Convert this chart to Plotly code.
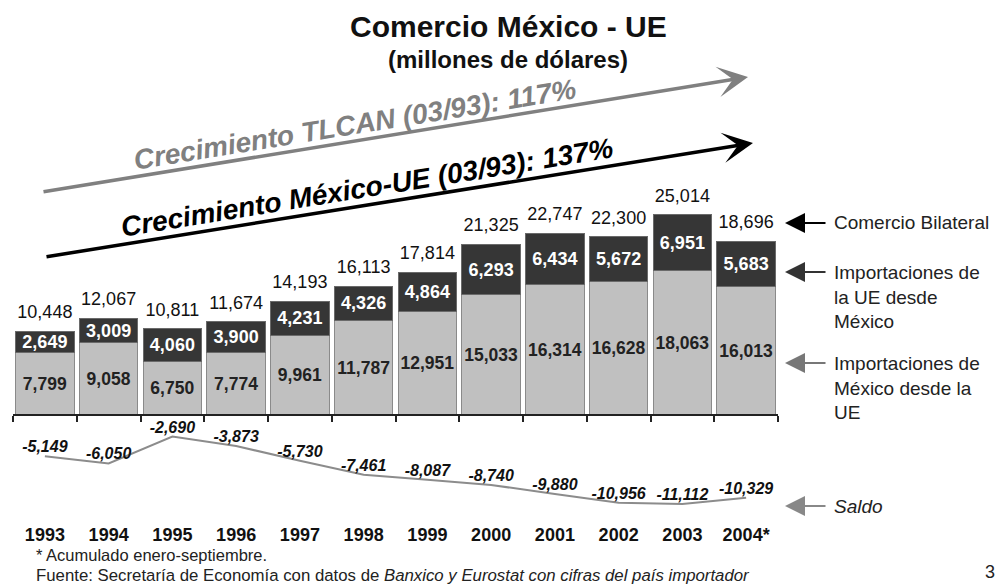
import plotly.graph_objects as go

# ---------------- data ----------------
years = ["1993", "1994", "1995", "1996", "1997", "1998", "1999", "2000",
         "2001", "2002", "2003", "2004*"]
imp_mexico_desde_ue = [7799, 9058, 6750, 7774, 9961, 11787, 12951, 15033,
                       16314, 16628, 18063, 16013]
imp_ue_desde_mexico = [2649, 3009, 4060, 3900, 4231, 4326, 4864, 6293,
                       6434, 5672, 6951, 5683]
comercio_bilateral = [10448, 12067, 10811, 11674, 14193, 16113, 17814, 21325,
                      22747, 22300, 25014, 18696]
saldo = [-5149, -6050, -2690, -3873, -5730, -7461, -8087, -8740,
         -9880, -10956, -11112, -10329]

# ---------------- layout geometry ----------------
W, H = 997, 586
ML, MR, MT, MB = 13, 219, 0, 64
PW = W - ML - MR
PH = H - MT - MB
ZERO_PX = 415           # pixel row of the zero line
PX_PER_UNIT = 8 / 1000  # pixels per million dollars
YMAX = (ZERO_PX - MT) / PX_PER_UNIT
YMIN = -(MT + PH - ZERO_PX) / PX_PER_UNIT


def px(x):
    return (x - ML) / PW


def py(y):
    return (MT + PH - y) / PH


FONT = "Liberation Sans, Arial, Helvetica, sans-serif"
LIGHT = "#c0c0c0"
DARK = "#363636"

fmt = lambda v: f"{v:,}"
stack_top = [a + b for a, b in zip(imp_mexico_desde_ue, imp_ue_desde_mexico)]

fig = go.Figure()

fig.add_trace(go.Bar(
    x=years, y=imp_mexico_desde_ue, name="Importaciones de México desde la UE",
    marker=dict(color=LIGHT, line=dict(color="#8a8a8a", width=1)),
    text=[fmt(v) for v in imp_mexico_desde_ue], textposition="inside",
    insidetextanchor="middle", constraintext="none", textangle=0,
    textfont=dict(family=FONT, size=17.5, color="#222222", weight="bold"),
    hoverinfo="skip",
))
fig.add_trace(go.Bar(
    x=years, y=imp_ue_desde_mexico, name="Importaciones de la UE desde México",
    marker=dict(color=DARK, line=dict(color="#6a6a6a", width=1)),
    text=[fmt(v) for v in imp_ue_desde_mexico], textposition="inside",
    insidetextanchor="middle", constraintext="none", textangle=0,
    textfont=dict(family=FONT, size=18, color="white", weight="bold"),
    hoverinfo="skip",
))
fig.add_trace(go.Scatter(
    x=years, y=stack_top, mode="markers+text", name="Comercio Bilateral",
    marker=dict(size=12, color="rgba(0,0,0,0)"),
    text=[fmt(v) for v in comercio_bilateral], textposition="top center",
    textfont=dict(family=FONT, size=18, color="#111111"),
    cliponaxis=False, hoverinfo="skip",
))
fig.add_trace(go.Scatter(
    x=years, y=saldo, mode="lines+text", name="Saldo", xaxis="x2",
    line=dict(color="#8c8c8c", width=2),
    text=[fmt(v) for v in saldo], textposition="top center",
    textfont=dict(family=FONT, size=16, color="#111111", style="italic",
                  weight="bold"),
    cliponaxis=False, hoverinfo="skip",
))

annotations = []

# Title
annotations.append(dict(x=px(508), y=py(27), xref="paper", yref="paper",
                        xanchor="center", yanchor="middle",
                        text="Comercio México - UE", showarrow=False,
                        font=dict(family=FONT, size=30, color="#111", weight="bold")))
annotations.append(dict(x=px(508), y=py(60), xref="paper", yref="paper",
                        xanchor="center", yanchor="middle",
                        text="(millones de dólares)", showarrow=False,
                        font=dict(family=FONT, size=24, color="#111", weight="bold")))

# Big growth arrows
annotations.append(dict(x=px(748), y=py(77), xref="paper", yref="paper",
                        ax=42 - 748, ay=192 - 77, text="", showarrow=True,
                        arrowhead=3, arrowwidth=3.5, arrowsize=1.45,
                        arrowcolor="#808080", standoff=0, startstandoff=0))
annotations.append(dict(x=px(753), y=py(143), xref="paper", yref="paper",
                        ax=45 - 753, ay=257 - 143, text="", showarrow=True,
                        arrowhead=3, arrowwidth=3.5, arrowsize=1.45,
                        arrowcolor="#000000", standoff=0, startstandoff=0))
annotations.append(dict(x=px(355), y=py(124), xref="paper", yref="paper",
                        xanchor="center", yanchor="middle",
                        text="Crecimiento TLCAN (03/93): 117%", showarrow=False,
                        textangle=-9.2,
                        font=dict(family=FONT, size=28, color="#808080",
                                  weight="bold", style="italic")))
annotations.append(dict(x=px(367), y=py(187), xref="paper", yref="paper",
                        xanchor="center", yanchor="middle",
                        text="Crecimiento México-UE (03/93): 137%", showarrow=False,
                        textangle=-9.2,
                        font=dict(family=FONT, size=28, color="#000000",
                                  weight="bold", style="italic")))

# Right-hand labels with arrows
side = [
    (223, "#000000", "Comercio Bilateral", "normal"),
    (272, "#333333", "Importaciones de<br>la UE desde<br>México", "normal"),
    (363, "#777777", "Importaciones de<br>México desde la<br>UE", "normal"),
    (506, "#888888", "Saldo", "italic"),
]
for ypix, col, txt, sty in side:
    annotations.append(dict(x=px(785), y=py(ypix), xref="paper", yref="paper",
                            ax=42, ay=0, text="", showarrow=True,
                            arrowhead=2, arrowwidth=2, arrowsize=2,
                            arrowcolor=col, standoff=0, startstandoff=0))
    annotations.append(dict(x=px(832), y=py(ypix - 12.5), xref="paper", yref="paper",
                            xanchor="left", yanchor="top", align="left",
                            text=txt, showarrow=False,
                            font=dict(family=FONT, size=19, color="#222",
                                      style=sty)))

# Footnotes
annotations.append(dict(x=px(34), y=py(555), xref="paper", yref="paper",
                        xanchor="left", yanchor="middle", showarrow=False,
                        text="* Acumulado enero-septiembre.",
                        font=dict(family=FONT, size=16.5, color="#222")))
annotations.append(dict(x=px(34), y=py(575), xref="paper", yref="paper",
                        xanchor="left", yanchor="middle", showarrow=False,
                        text="Fuente: Secretaría de Economía con datos de "
                             "<i>Banxico y Eurostat con cifras del país importador</i>",
                        font=dict(family=FONT, size=16.8, color="#222")))
annotations.append(dict(x=px(983), y=py(572), xref="paper", yref="paper",
                        xanchor="left", yanchor="middle", showarrow=False,
                        text="3", font=dict(family=FONT, size=18, color="#222")))

axis_pos = (0 - YMIN) / (YMAX - YMIN)

fig.update_layout(
    width=W, height=H,
    margin=dict(l=ML, r=MR, t=MT, b=MB, pad=0),
    paper_bgcolor="white", plot_bgcolor="white",
    barmode="stack", bargap=0.08,
    showlegend=False,
    font=dict(family=FONT, color="#111"),
    xaxis=dict(type="category", range=[-0.5, 11.5], anchor="free",
               position=axis_pos, showline=True, linecolor="#222",
               linewidth=2, ticks="outside", tickson="boundaries",
               ticklen=6, tickwidth=2, tickcolor="#222",
               showticklabels=False, showgrid=False, zeroline=False,
               fixedrange=True),
    xaxis2=dict(type="category", range=[-0.5, 11.5], overlaying="x",
                anchor="y", side="bottom", showline=False, ticks="",
                showgrid=False, zeroline=False, fixedrange=True,
                tickfont=dict(family=FONT, size=18, color="#111",
                              weight="bold")),
    yaxis=dict(range=[YMIN, YMAX], visible=False, fixedrange=True),
    annotations=annotations,
)

fig.write_html(
    "out.html",
    config={"displayModeBar": False},
    post_script="document.body.style.margin='0px';document.body.style.padding='0px';",
)
